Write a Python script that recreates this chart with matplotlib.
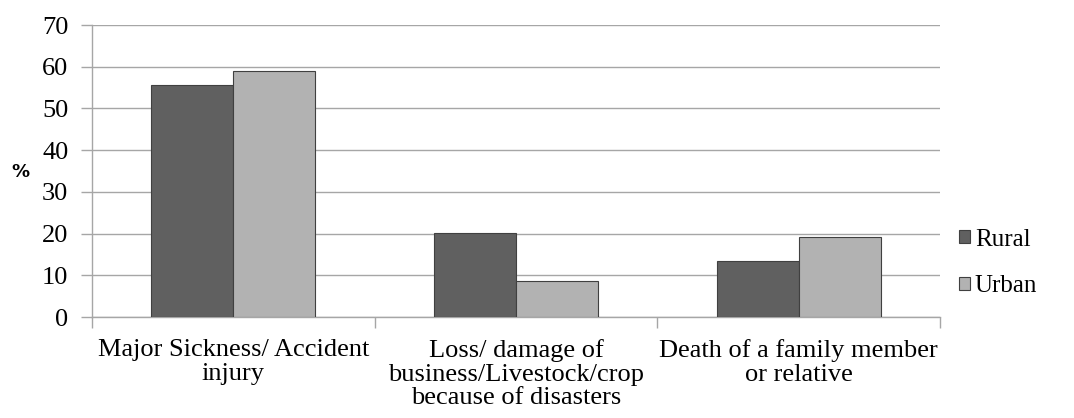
import matplotlib
matplotlib.use("Agg")
import matplotlib.pyplot as plt
import numpy as np
from matplotlib.patches import Patch

categories = ["Major Sickness/ Accident\ninjury",
              "Loss/ damage of\nbusiness/Livestock/crop\nbecause of disasters",
              "Death of a family member\nor relative"]
rural = [55.5, 20.1, 13.4]
urban = [59.0, 8.6, 19.1]
yticks = [0, 10, 20, 30, 40, 50, 60, 70]

plt.rcParams["font.family"] = ["Liberation Serif", "DejaVu Serif"]

fig = plt.figure(figsize=(10.74, 4.18), dpi=100)
ax = fig.add_axes([92 / 1074, 1 - 317 / 418, 848 / 1074, 292 / 418])

x = np.arange(len(categories))
w = 0.29
dark, light, edge = "#606060", "#b2b2b2", "#404040"
ax.bar(x - w / 2, rural, w, color=dark, edgecolor=edge, linewidth=0.8, zorder=3)
ax.bar(x + w / 2, urban, w, color=light, edgecolor=edge, linewidth=0.8, zorder=3)

ax.set_xlim(-0.5, 2.5)
ax.set_ylim(0, 70)
ax.set_yticks(yticks)
ax.set_yticklabels([str(t) for t in yticks], fontsize=19)
ax.yaxis.grid(True, color="#a6a6a6", linewidth=1.0, zorder=0)

# category labels centred between boundary ticks
ax.set_xticks([-0.5, 0.5, 1.5, 2.5])
ax.set_xticklabels([])
ax.tick_params(axis="x", length=8, color="#a6a6a6", width=1.0, direction="out")
ax.tick_params(axis="y", length=8, color="#a6a6a6", width=1.0, direction="out", pad=9)
for xi, lab in zip(x, categories):
    ax.text(xi, -5.3, lab, ha="center", va="top", fontsize=19,
            linespacing=1.1, transform=ax.transData)

for s in ["top", "right"]:
    ax.spines[s].set_visible(False)
ax.spines["left"].set_color("#a6a6a6")
ax.spines["bottom"].set_color("#a6a6a6")
ax.spines["left"].set_linewidth(1.0)
ax.spines["bottom"].set_linewidth(1.0)

fig.text(20 / 1074, 1 - 172 / 418, "%", ha="center", va="center",
         fontsize=13, fontweight="bold", family="DejaVu Sans")

handles = [Patch(facecolor=dark, edgecolor=edge, linewidth=0.8, label="Rural"),
           Patch(facecolor=light, edgecolor=edge, linewidth=0.8, label="Urban")]
fig.legend(handles=handles, loc="center left", bbox_to_anchor=(946 / 1074, 1 - 263 / 418),
           frameon=False, fontsize=18, handlelength=0.45, handleheight=0.45,
           handletextpad=0.2, labelspacing=1.0, borderpad=0)

fig.savefig("out.png", dpi=100)
